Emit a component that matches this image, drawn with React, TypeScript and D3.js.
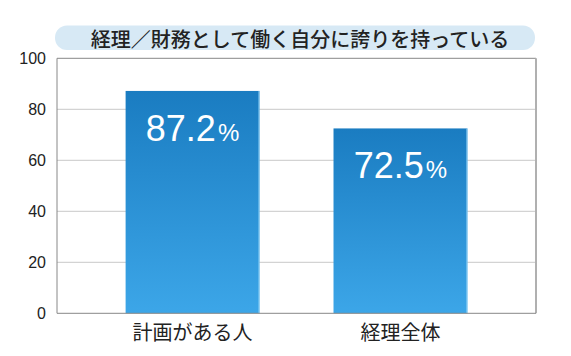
import React from "react";
import * as d3 from "d3";

const title = "経理／財務として働く自分に誇りを持っている";
const categories = ["計画がある人", "経理全体"];
const values = [87.2, 72.5];
const yTicks = [0, 20, 40, 60, 80, 100];

const W = 571;
const H = 356;
const M = { left: 57, right: 536, top: 58.3, bottom: 313.3 };

export default function App() {
  const x = d3
    .scaleBand<string>()
    .domain(categories)
    .range([M.left, M.right])
    .paddingInner(0.356)
    .paddingOuter(0.33);
  const y = d3.scaleLinear().domain([0, 100]).range([M.bottom, M.top]);
  const num = "'Liberation Sans', Arial, Helvetica, sans-serif";
  const jp = "'Noto Sans CJK JP', 'Noto Sans', sans-serif";
  return (
    <svg
      width={W}
      height={H}
      style={{ position: "absolute", left: 0, top: 0, background: "#fff" }}
    >
      <defs>
        <linearGradient id="barGrad" x1="0" y1="0" x2="0" y2="1">
          <stop offset="0%" stopColor="#1a7cc1" />
          <stop offset="100%" stopColor="#3ca6e8" />
        </linearGradient>
      </defs>
      {/* title pill */}
      <rect x={55} y={25.5} width={480} height={24.5} rx={12} fill="#d7e9f5" />
      <text
        x={300}
        y={38}
        textAnchor="middle"
        dominantBaseline="central"
        fontFamily={jp}
        fontWeight={500}
        fontSize={20}
        fill="#222"
      >
        {title}
      </text>
      {/* grid */}
      {yTicks.slice(1, -1).map((t) => (
        <line
          key={t}
          x1={M.left}
          x2={M.right}
          y1={y(t)}
          y2={y(t)}
          stroke="#c8c8c8"
          strokeWidth={1}
        />
      ))}
      {/* frame */}
      <line x1={M.left} x2={M.right} y1={M.top} y2={M.top} stroke="#888" strokeWidth={1} />
      <line x1={M.right} x2={M.right} y1={M.top} y2={M.bottom} stroke="#b0b0b0" strokeWidth={2} />
      {/* bars */}
      {categories.map((c, i) => {
        const bx = x(c)!;
        const bw = x.bandwidth();
        const by = y(values[i]);
        return (
          <g key={c}>
            <rect x={bx} y={by} width={bw} height={M.bottom - by} fill="url(#barGrad)" />
            <line
              x1={bx + bw - 0.5}
              x2={bx + bw - 0.5}
              y1={by}
              y2={M.bottom}
              stroke="#8fd0f5"
              strokeWidth={1}
            />
            <text
              x={bx + bw / 2}
              y={by + 50}
              textAnchor="middle"
              fontFamily={num}
              fill="#fff"
            >
              <tspan fontSize={36}>{values[i].toFixed(1)}</tspan>
              <tspan fontSize={24} dx={2}>%</tspan>
            </text>
            <text
              x={bx + bw / 2}
              y={340}
              textAnchor="middle"
              fontFamily={jp}
              fontSize={20}
              fill="#222"
            >
              {c}
            </text>
          </g>
        );
      })}
      <line x1={M.left} x2={M.left} y1={M.top} y2={M.bottom} stroke="#888" strokeWidth={1} />
      <line x1={M.left} x2={M.right} y1={M.bottom} y2={M.bottom} stroke="#888" strokeWidth={1} />
      {/* y tick labels */}
      {yTicks.map((t) => (
        <text
          key={t}
          x={46}
          y={y(t)}
          textAnchor="end"
          dominantBaseline="central"
          fontFamily={num}
          fontSize={16}
          fill="#222"
        >
          {t}
        </text>
      ))}
    </svg>
  );
}
